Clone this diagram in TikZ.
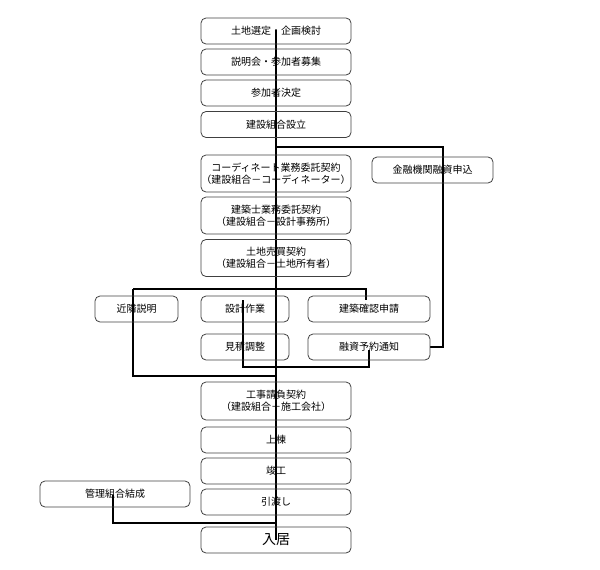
\documentclass[tikz,border=0pt]{standalone}
\usepackage{fontspec}
\setmainfont{Noto Sans CJK JP}
\begin{document}
\begin{tikzpicture}[x=1pt,y=-1pt,
  box/.style={draw=black!75,line width=0.8pt,rounded corners=5pt,inner sep=0pt,align=center,font=\fontsize{10}{12}\selectfont},
  ln/.style={line width=2.6pt}]
\useasboundingbox (0,0) rectangle (600,570);
% connectors first
\coordinate (b1) at (276,147); \coordinate (b1r) at (443,147);
\coordinate (b2l) at (133,289); \coordinate (b2r) at (366,289); \coordinate (b2) at (276,289);
\coordinate (b3) at (276,367); \coordinate (b3l) at (243,367); \coordinate (b3r) at (369,367);
\coordinate (b4) at (276,376); \coordinate (b4l) at (133,376);
\coordinate (b5) at (276,523); \coordinate (b5l) at (113,523);
\coordinate (fr) at (443,347);
\draw[ln] (276,30) -- (276,540);
\draw[ln] (b1) -- (b1r) -- (fr) -- (430,347);
\draw[ln] (b2l) -- (b2r) -- (366,300);
\draw[ln] (b2l) -- (b4l) -- (b4);
\draw[ln] (243,300) -- (b3l) -- (b3r) -- (369,350);
\draw[ln] (113,495) -- (b5l) -- (b5);
% boxes
\node[box,minimum width=150,minimum height=26] (n1) at (276,31) {土地選定・企画検討};
\node[box,minimum width=150,minimum height=26] (n2) at (276,62) {説明会・参加者募集};
\node[box,minimum width=150,minimum height=26] (n3) at (276,93) {参加者決定};
\node[box,minimum width=150,minimum height=26] (n4) at (276,124.5) {建設組合設立};
\node[box,minimum width=150,minimum height=37] (n5) at (276,173.5) {コーディネート業務委託契約\\（建設組合－コーディネーター）};
\node[box,minimum width=150,minimum height=37] (n6) at (276,215.5) {建築士業務委託契約\\（建設組合－設計事務所）};
\node[box,minimum width=150,minimum height=37] (n7) at (276,258) {土地売買契約\\（建設組合－土地所有者）};
\node[box,minimum width=121,minimum height=26] (f1) at (432.5,170) {金融機関融資申込};
\node[box,minimum width=83,minimum height=26] (k1) at (136.5,309) {近隣説明};
\node[box,minimum width=88,minimum height=26] (s1) at (245,309) {設計作業};
\node[box,minimum width=122,minimum height=26] (c1) at (369,309) {建築確認申請};
\node[box,minimum width=88,minimum height=26] (m1) at (245,347) {見積調整};
\node[box,minimum width=122,minimum height=26] (y1) at (369,347) {融資予約通知};
\node[box,minimum width=150,minimum height=38] (n8) at (276,401) {工事請負契約\\（建設組合－施工会社）};
\node[box,minimum width=150,minimum height=26] (n9) at (276,440) {上棟};
\node[box,minimum width=150,minimum height=26] (n10) at (276,471) {竣工};
\node[box,minimum width=150,minimum height=26] (n11) at (276,502) {引渡し};
\node[box,minimum width=150,minimum height=26,font=\fontsize{14}{16}\selectfont] (n12) at (276,540) {入居};
\node[box,minimum width=150,minimum height=26] (g1) at (115,494) {管理組合結成};
\end{tikzpicture}
\end{document}
